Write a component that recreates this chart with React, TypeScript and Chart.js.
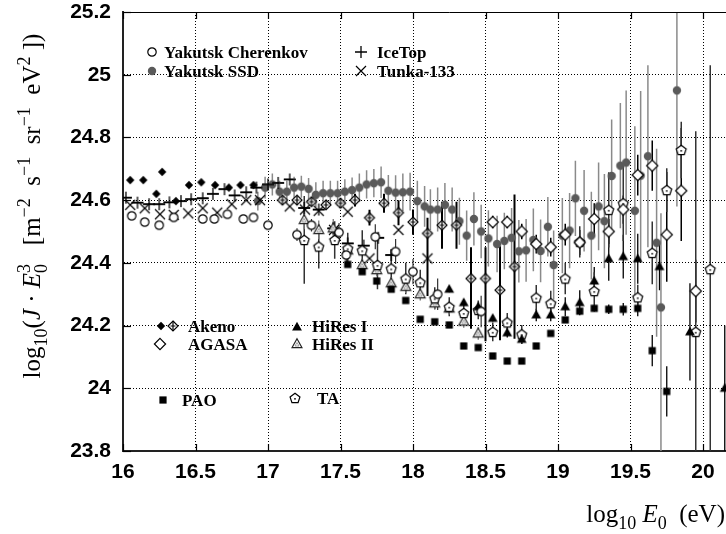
import React, { useEffect, useRef } from 'react';
import { Chart, registerables } from 'chart.js';
Chart.register(...registerables);

// ---------------- DATA ----------------
const X_TICKS_MIN = 16;
const X_TICKS_MAX = 20.5;
const X_STEP = 0.5;
const Y_MIN = 23.8;
const Y_MAX = 25.2;
const Y_STEP = 0.2;

const CHER_X = [16.06, 16.15, 16.25, 16.35, 16.55, 16.63, 16.72, 16.83, 16.9, 17.0, 17.2, 17.3, 17.49, 17.54, 17.74, 17.88, 18.0, 18.17, 18.47];
const CHER_Y = [24.55, 24.53, 24.52, 24.545, 24.54, 24.54, 24.555, 24.54, 24.545, 24.52, 24.49, 24.52, 24.497, 24.425, 24.483, 24.436, 24.372, 24.3, 24.245];
const CHER_ERR = [0, 0, 0, 0, 0, 0, 0, 0, 0, 0, 0.02, 0.02, 0.03, 0.03, 0.04, 0.04, 0.04, 0.05, 0.05];

const SSD_X = [16.93, 16.98, 17.03, 17.08, 17.13, 17.18, 17.23, 17.28, 17.33, 17.38, 17.43, 17.48, 17.53, 17.58, 17.63, 17.68, 17.73, 17.78, 17.83, 17.88, 17.93, 17.98,
  18.03, 18.08, 18.12, 18.17, 18.22, 18.27, 18.32, 18.37, 18.42, 18.47,
  18.52, 18.58, 18.63, 18.68, 18.73, 18.78, 18.83, 18.88, 18.93, 18.97,
  19.03, 19.08, 19.12, 19.18, 19.23, 19.28, 19.32, 19.37, 19.43, 19.47,
  19.53, 19.57, 19.62, 19.68, 19.71, 19.82];
const SSD_Y = [24.597, 24.64, 24.65, 24.627, 24.627, 24.64, 24.643, 24.636, 24.617, 24.622, 24.622, 24.622, 24.627, 24.632, 24.64, 24.65, 24.654, 24.657, 24.63, 24.624, 24.625, 24.627,
  24.597, 24.58, 24.57, 24.57, 24.585, 24.57, 24.533, 24.487, 24.54, 24.5,
  24.478, 24.46, 24.47, 24.48, 24.437, 24.44, 24.473, 24.438, 24.515, 24.393,
  24.487, 24.503, 24.606, 24.566, 24.487, 24.58, 24.533, 24.677, 24.71, 24.72,
  24.566, 24.678, 24.74, 24.464, 24.258, 24.95];
const SSD_ERR_HI = [0.03, 0.035, 0.035, 0.035, 0.035, 0.035, 0.035, 0.035, 0.04, 0.04, 0.04, 0.04, 0.04, 0.04, 0.045, 0.045, 0.045, 0.05, 0.05, 0.055, 0.06, 0.06,
  0.065, 0.065, 0.065, 0.07, 0.07, 0.07, 0.075, 0.08, 0.085, 0.085,
  0.09, 0.09, 0.09, 0.095, 0.1, 0.1, 0.1, 0.1, 0.095, 0.11,
  0.12, 0.12, 0.12, 0.13, 0.14, 0.14, 0.15, 0.18, 0.2, 0.23,
  0.27, 0.27, 0.29, 0.3, 0.3, 0.4];
const SSD_ERR_LO = [0.03, 0.035, 0.035, 0.035, 0.035, 0.035, 0.035, 0.035, 0.04, 0.04, 0.04, 0.04, 0.04, 0.04, 0.045, 0.045, 0.045, 0.05, 0.05, 0.055, 0.06, 0.06,
  0.065, 0.065, 0.065, 0.07, 0.07, 0.07, 0.075, 0.08, 0.085, 0.085,
  0.09, 0.09, 0.09, 0.095, 0.1, 0.1, 0.1, 0.1, 0.095, 0.11,
  0.12, 0.12, 0.12, 0.13, 0.14, 0.14, 0.15, 0.18, 0.2, 0.23,
  0.27, 0.27, 0.29, 0.3, 0.6, 0.37];

const ICE_X = [16.02, 16.1, 16.18, 16.25, 16.32, 16.4, 16.47, 16.55, 16.62, 16.7, 16.77, 16.85, 16.92, 17.0, 17.07, 17.15, 17.25, 17.35, 17.45, 17.55, 17.66, 17.76, 17.85];
const ICE_Y = [24.608, 24.592, 24.587, 24.587, 24.593, 24.597, 24.603, 24.606, 24.62, 24.635, 24.615, 24.625, 24.64, 24.65, 24.655, 24.666, 24.575, 24.57, 24.51, 24.462, 24.455, 24.48, 24.425];
const ICE_XERR = 0.04;

const TUNKA_X = [16.05, 16.15, 16.255, 16.35, 16.45, 16.55, 16.65, 16.75, 16.85, 16.945, 17.15, 17.255, 17.35, 17.455, 17.55, 17.7, 17.9, 18.1];
const TUNKA_Y = [24.585, 24.574, 24.555, 24.553, 24.558, 24.574, 24.56, 24.587, 24.6, 24.6, 24.58, 24.57, 24.566, 24.505, 24.563, 24.414, 24.505, 24.414];

const AKENO1_X = [16.05, 16.14, 16.23, 16.27, 16.365, 16.455, 16.54, 16.635, 16.73, 16.81, 16.9];
const AKENO1_Y = [24.664, 24.664, 24.62, 24.69, 24.597, 24.648, 24.657, 24.648, 24.64, 24.648, 24.648];

const AKENO2_X = [17.1, 17.2, 17.3, 17.4, 17.5, 17.6, 17.7, 17.8, 17.9, 18.0, 18.1, 18.2, 18.3, 18.4, 18.5, 18.6, 18.7];
const AKENO2_Y = [24.6, 24.6, 24.595, 24.585, 24.59, 24.6, 24.544, 24.59, 24.56, 24.53, 24.494, 24.52, 24.52, 24.35, 24.35, 24.313, 24.388];
const AKENO2_ERR_HI = [0.01, 0.01, 0.01, 0.01, 0.015, 0.02, 0.025, 0.03, 0.04, 0.04, 0.05, 0.075, 0.075, 0.1, 0.1, 0.14, 0.23];
const AKENO2_ERR_LO = [0.01, 0.01, 0.01, 0.01, 0.015, 0.02, 0.025, 0.03, 0.04, 0.04, 0.2, 0.075, 0.075, 0.16, 0.2, 0.16, 0.23];

const AGASA_X = [18.55, 18.65, 18.75, 18.85, 18.95, 19.05, 19.15, 19.25, 19.35, 19.45, 19.55, 19.65, 19.75, 19.85, 19.95];
const AGASA_Y = [24.53, 24.53, 24.5, 24.46, 24.45, 24.49, 24.465, 24.54, 24.5, 24.57, 24.68, 24.71, 24.49, 24.63, 24.31];
const AGASA_ERR_HI = [0.02, 0.02, 0.025, 0.03, 0.03, 0.035, 0.04, 0.05, 0.04, 0.045, 0.065, 0.08, 0.2, 0.2, 0.1];
const AGASA_ERR_LO = [0.02, 0.02, 0.025, 0.03, 0.03, 0.035, 0.04, 0.05, 0.04, 0.045, 0.065, 0.08, 0.15, 0.16, 0.1];

const HIRES1_X = [18.25, 18.35, 18.45, 18.55, 18.65, 18.75, 18.85, 18.95, 19.05, 19.15, 19.25, 19.35, 19.45, 19.55, 19.7, 19.91, 20.15];
const HIRES1_Y = [24.316, 24.273, 24.26, 24.223, 24.177, 24.156, 24.234, 24.234, 24.26, 24.273, 24.342, 24.413, 24.42, 24.413, 24.388, 24.18, 24.0];
const HIRES1_ERR = [0.01, 0.01, 0.01, 0.01, 0.015, 0.015, 0.02, 0.02, 0.03, 0.04, 0.045, 0.07, 0.07, 0.08, 0.075, 0.155, 0.2];

const HIRES2_X = [17.25, 17.35, 17.45, 17.55, 17.65, 17.75, 17.85, 17.95, 18.05, 18.15, 18.25, 18.35, 18.45];
const HIRES2_Y = [24.537, 24.505, 24.51, 24.44, 24.393, 24.377, 24.335, 24.324, 24.3, 24.271, 24.255, 24.213, 24.175];
const HIRES2_ERR = [0.03, 0.03, 0.03, 0.025, 0.02, 0.02, 0.02, 0.02, 0.02, 0.02, 0.02, 0.02, 0.02];

const PAO_X = [17.55, 17.65, 17.75, 17.85, 17.95, 18.05, 18.15, 18.25, 18.35, 18.45, 18.55, 18.65, 18.75, 18.85, 18.95, 19.05, 19.15, 19.25, 19.35, 19.45, 19.55, 19.65, 19.75];
const PAO_Y = [24.395, 24.372, 24.342, 24.316, 24.28, 24.22, 24.212, 24.202, 24.135, 24.13, 24.103, 24.087, 24.087, 24.135, 24.175, 24.218, 24.246, 24.255, 24.252, 24.252, 24.255, 24.12, 23.99];
const PAO_ERR = [0, 0, 0, 0, 0, 0, 0, 0, 0, 0, 0, 0, 0, 0, 0, 0, 0, 0.01, 0.015, 0.02, 0.025, 0.05, 0.08];

const TA_X = [17.25, 17.35, 17.46, 17.55, 17.65, 17.755, 17.85, 17.95, 18.05, 18.15, 18.25, 18.35, 18.45, 18.55, 18.65, 18.75, 18.85, 18.95, 19.05, 19.15, 19.25, 19.35, 19.45, 19.55, 19.65, 19.75, 19.85, 19.95, 20.05];
const TA_Y = [24.473, 24.452, 24.473, 24.446, 24.44, 24.393, 24.382, 24.35, 24.338, 24.287, 24.26, 24.24, 24.25, 24.18, 24.21, 24.172, 24.289, 24.271, 24.35, 24.467, 24.31, 24.569, 24.59, 24.29, 24.432, 24.632, 24.76, 24.18, 24.38];
const TA_ERR_HI = [0.14, 0.07, 0.06, 0.05, 0.064, 0.077, 0.06, 0.05, 0.04, 0.035, 0.03, 0.03, 0.03, 0.03, 0.03, 0.03, 0.04, 0.04, 0.05, 0.05, 0.06, 0.12, 0.12, 0.04, 0.1, 0.07, 0.09, 0.64, 0.65];
const TA_ERR_LO = [0.14, 0.07, 0.06, 0.05, 0.064, 0.077, 0.06, 0.05, 0.04, 0.035, 0.03, 0.03, 0.03, 0.03, 0.03, 0.03, 0.04, 0.04, 0.05, 0.05, 0.06, 0.12, 0.12, 0.04, 0.1, 0.07, 0.09, 0.5, 0.7];

// ---------------- SYMBOLS ----------------
function makeSymbol(kind: string): HTMLCanvasElement {
  const s = 20;
  const c = document.createElement('canvas');
  c.width = s; c.height = s;
  const g = c.getContext('2d')!;
  const m = s / 2;
  g.lineWidth = 1.2; g.strokeStyle = '#000'; g.fillStyle = '#000';
  const diamond = (hd: number) => { g.beginPath(); g.moveTo(m, m - hd); g.lineTo(m + hd, m); g.lineTo(m, m + hd); g.lineTo(m - hd, m); g.closePath(); };
  const tri = (h: number) => { g.beginPath(); g.moveTo(m, m - h * 0.62); g.lineTo(m + h * 0.58, m + h * 0.42); g.lineTo(m - h * 0.58, m + h * 0.42); g.closePath(); };
  switch (kind) {
    case 'circOpen':
      g.beginPath(); g.arc(m, m, 4.2, 0, Math.PI * 2); g.fillStyle = '#fff'; g.fill(); g.stroke(); break;
    case 'circGray':
      g.beginPath(); g.arc(m, m, 4.2, 0, Math.PI * 2); g.fillStyle = '#5a5a5a'; g.fill(); break;
    case 'plus':
      g.lineWidth = 1.3; g.beginPath(); g.moveTo(m - 6, m); g.lineTo(m + 6, m); g.moveTo(m, m - 6); g.lineTo(m, m + 6); g.stroke(); break;
    case 'cross':
      g.lineWidth = 1.2; g.beginPath(); g.moveTo(m - 5, m - 5); g.lineTo(m + 5, m + 5); g.moveTo(m + 5, m - 5); g.lineTo(m - 5, m + 5); g.stroke(); break;
    case 'diaFill':
      diamond(4.2); g.fill(); break;
    case 'diaCross':
      diamond(5); g.fillStyle = '#fff'; g.fill(); g.stroke();
      g.beginPath(); g.moveTo(m, m - 5); g.lineTo(m, m + 5); g.moveTo(m - 2.5, m); g.lineTo(m + 2.5, m); g.stroke(); break;
    case 'diaOpen':
      diamond(5.6); g.fillStyle = '#fff'; g.fill(); g.stroke(); break;
    case 'triFill':
      tri(8.5); g.fill(); break;
    case 'triOpen':
      tri(8.5); g.fillStyle = '#fff'; g.fill(); g.strokeStyle = '#222'; g.stroke();
      g.beginPath(); g.moveTo(m, m - 1.5); g.lineTo(m + 2, m + 2); g.lineTo(m - 2, m + 2); g.closePath(); g.strokeStyle = '#888'; g.lineWidth = 0.8; g.stroke(); break;
    case 'square':
      g.fillRect(m - 3.6, m - 3.6, 7.2, 7.2); break;
    case 'pent': {
      g.beginPath();
      for (let k = 0; k < 5; k++) {
        const a = -Math.PI / 2 + k * 2 * Math.PI / 5;
        const px = m + 5.2 * Math.cos(a), py = m + 0.5 + 5.2 * Math.sin(a);
        if (k === 0) g.moveTo(px, py); else g.lineTo(px, py);
      }
      g.closePath(); g.fillStyle = '#fff'; g.fill(); g.stroke();
      g.beginPath(); g.arc(m, m + 0.8, 0.9, 0, Math.PI * 2); g.fillStyle = '#000'; g.fill();
      break;
    }
  }
  return c;
}

// --------------- TEXT HELPERS ---------------
type Seg = { t: string; it?: boolean; sub?: boolean; sup?: boolean; back?: boolean };
const SERIF = '"Liberation Serif", "DejaVu Serif", serif';
function drawRich(ctx: CanvasRenderingContext2D, segs: Seg[], x: number, y: number, size: number, align: 'left' | 'center' | 'right') {
  const small = Math.round(size * 0.7);
  const fontFor = (s: Seg) => `${s.it ? 'italic ' : ''}${s.sub || s.sup ? small : size}px ${SERIF}`;
  const widths = segs.map(s => { ctx.font = fontFor(s); return ctx.measureText(s.t).width; });
  let cur = 0, total = 0;
  const xs: number[] = [];
  for (let i = 0; i < segs.length; i++) {
    if (segs[i].back) {
      const prevStart = xs[i - 1];
      xs.push(prevStart);
      cur = prevStart + Math.max(widths[i - 1], widths[i]);
    } else {
      xs.push(cur);
      cur += widths[i];
    }
    total = Math.max(total, cur);
  }
  const x0 = align === 'right' ? x - total : align === 'center' ? x - total / 2 : x;
  ctx.textAlign = 'left';
  ctx.textBaseline = 'alphabetic';
  ctx.fillStyle = '#000';
  segs.forEach((s, i) => {
    ctx.font = fontFor(s);
    const dy = s.sub ? size * 0.28 : s.sup ? -size * 0.42 : 0;
    ctx.fillText(s.t, x0 + xs[i], y + dy);
  });
}

const Y_TITLE: Seg[] = [
  { t: 'log' }, { t: '10', sub: true }, { t: '(' }, { t: 'J', it: true }, { t: ' · ' }, { t: 'E', it: true },
  { t: '0', sub: true }, { t: '3', sup: true, back: true }, { t: '   [' }, { t: 'm' }, { t: '−2', sup: true },
  { t: '  s' }, { t: '−1', sup: true }, { t: '  sr' }, { t: '−1', sup: true }, { t: '  eV' }, { t: '2', sup: true }, { t: ' ])' },
];
const X_TITLE: Seg[] = [
  { t: 'log' }, { t: '10', sub: true }, { t: ' ' }, { t: 'E', it: true }, { t: '0', sub: true }, { t: '  (eV)' },
];

const LEGEND_FONT = `bold 17px ${SERIF}`;
const TICK_FONT = { family: '"Liberation Sans", Arial, sans-serif', size: 21, weight: 'bold' };

export default function App() {
  const ref = useRef<HTMLCanvasElement | null>(null);
  useEffect(() => {
    document.body.style.margin = '0';
    const canvas = ref.current!;
    const sym: Record<string, HTMLCanvasElement> = {};
    ['circOpen', 'circGray', 'plus', 'cross', 'diaFill', 'diaCross', 'diaOpen', 'triFill', 'triOpen', 'square', 'pent'].forEach(k => { sym[k] = makeSymbol(k); });

    const pts = (xs: number[], ys: number[]) => xs.map((x, i) => ({ x, y: ys[i] }));
    const ds = (label: string, xs: number[], ys: number[], style: string, errs?: any) => ({
      label, data: pts(xs, ys), pointStyle: sym[style], pointRadius: 5, showLine: false, errs,
    });

    const datasets: any[] = [
      ds('Yakutsk Cherenkov', CHER_X, CHER_Y, 'circOpen', { color: '#333', width: 1.2, lo: CHER_ERR, hi: CHER_ERR }),
      ds('Akeno', AKENO1_X, AKENO1_Y, 'diaFill'),
      ds('Akeno ', AKENO2_X, AKENO2_Y, 'diaCross', { color: '#000', width: 2, lo: AKENO2_ERR_LO, hi: AKENO2_ERR_HI }),
      ds('AGASA', AGASA_X, AGASA_Y, 'diaOpen', { color: '#000', width: 1.5, lo: AGASA_ERR_LO, hi: AGASA_ERR_HI }),
      ds('HiRes I', HIRES1_X, HIRES1_Y, 'triFill', { color: '#000', width: 1.3, lo: HIRES1_ERR, hi: HIRES1_ERR }),
      ds('PAO', PAO_X, PAO_Y, 'square', { color: '#000', width: 1.3, lo: PAO_ERR, hi: PAO_ERR }),
      ds('TA', TA_X, TA_Y, 'pent', { color: '#333', width: 1.5, lo: TA_ERR_LO, hi: TA_ERR_HI }),
      ds('HiRes II', HIRES2_X, HIRES2_Y, 'triOpen', { color: '#777', width: 1.3, lo: HIRES2_ERR, hi: HIRES2_ERR }),
      ds('Tunka-133', TUNKA_X, TUNKA_Y, 'cross'),
      ds('IceTop', ICE_X, ICE_Y, 'plus', { color: '#000', width: 1.3, xw: ICE_XERR }),
      ds('Yakutsk SSD', SSD_X, SSD_Y, 'circGray', { color: '#8a8a8a', width: 1.5, lo: SSD_ERR_LO, hi: SSD_ERR_HI }),
    ];

    const errorBars = {
      id: 'errorBars',
      beforeDatasetsDraw(chart: any) {
        const { ctx, chartArea: a, scales: { x, y } } = chart;
        ctx.save();
        ctx.beginPath(); ctx.rect(a.left, a.top, a.right - a.left, a.bottom - a.top); ctx.clip();
        chart.data.datasets.forEach((d: any) => {
          const e = d.errs; if (!e) return;
          ctx.strokeStyle = e.color; ctx.lineWidth = e.width;
          d.data.forEach((p: any, i: number) => {
            const px = x.getPixelForValue(p.x);
            const lo = e.lo ? e.lo[i] : 0, hi = e.hi ? e.hi[i] : 0;
            if (lo > 0 || hi > 0) {
              ctx.beginPath(); ctx.moveTo(px, y.getPixelForValue(p.y - lo)); ctx.lineTo(px, y.getPixelForValue(p.y + hi)); ctx.stroke();
            }
            if (e.xw) {
              const py = y.getPixelForValue(p.y);
              ctx.beginPath(); ctx.moveTo(x.getPixelForValue(p.x - e.xw), py); ctx.lineTo(x.getPixelForValue(p.x + e.xw), py); ctx.stroke();
            }
          });
        });
        ctx.restore();
      },
    };

    const frame = {
      id: 'frame',
      afterDraw(chart: any) {
        const { ctx, chartArea: a, scales: { x, y } } = chart;
        ctx.save();
        ctx.strokeStyle = '#000'; ctx.lineWidth = 1;
        ctx.beginPath(); ctx.moveTo(a.left, Math.round(a.top) + 0.5); ctx.lineTo(a.right, Math.round(a.top) + 0.5); ctx.stroke();
        ctx.lineWidth = 1.2;
        x.ticks.forEach((t: any) => {
          const px = Math.round(x.getPixelForValue(t.value)) + 0.5;
          ctx.beginPath(); ctx.moveTo(px, a.bottom); ctx.lineTo(px, a.bottom - 7); ctx.moveTo(px, a.top); ctx.lineTo(px, a.top + 7); ctx.stroke();
        });
        y.ticks.forEach((t: any) => {
          const py = Math.round(y.getPixelForValue(t.value)) + 0.5;
          ctx.beginPath(); ctx.moveTo(a.left, py); ctx.lineTo(a.left + 8, py); ctx.stroke();
        });
        // axis titles
        ctx.save();
        ctx.translate(40, 206);
        ctx.rotate(-Math.PI / 2);
        drawRich(ctx, Y_TITLE, 0, 0, 25, 'center');
        ctx.restore();
        drawRich(ctx, X_TITLE, 725, 522, 25, 'right');
        // legend
        const item = (s: string, cx: number, cy: number) => ctx.drawImage(sym[s], cx - 10, cy - 10);
        const text = (t: string, tx: number, ty: number) => { ctx.font = LEGEND_FONT; ctx.fillStyle = '#000'; ctx.textAlign = 'left'; ctx.textBaseline = 'alphabetic'; ctx.fillText(t, tx, ty); };
        item('circOpen', 152, 52); text('Yakutsk Cherenkov', 164, 58);
        item('circGray', 152, 71); text('Yakutsk SSD', 164, 77);
        item('plus', 361, 52); text('IceTop', 377, 58);
        item('cross', 361, 71); text('Tunka-133', 377, 77);
        item('diaFill', 161, 326); item('diaCross', 173, 326); text('Akeno', 188, 332);
        item('diaOpen', 160, 344); text('AGASA', 188, 350);
        item('triFill', 297, 327); text('HiRes I', 312, 332);
        item('triOpen', 297, 344); text('HiRes II', 312, 350);
        item('square', 163, 400); text('PAO', 182, 406);
        item('pent', 295, 398); text('TA', 317, 404);
        ctx.restore();
      },
    };

    const chart = new Chart(canvas, {
      type: 'scatter',
      data: { datasets },
      options: {
        animation: false,
        responsive: false,
        events: [],
        layout: { autoPadding: false, padding: { left: 0, top: 12, right: 24.5, bottom: 0 } },
        plugins: { legend: { display: false }, tooltip: { enabled: false }, title: { display: false } },
        scales: {
          x: {
            type: 'linear', min: X_TICKS_MIN, max: X_TICKS_MAX,
            afterFit: (s: any) => { s.height = 83; s.paddingLeft = 0; s.paddingRight = 0; },
            ticks: {
              stepSize: X_STEP, padding: 9, color: '#000', maxRotation: 0, autoSkip: false,
              font: TICK_FONT,
              callback: (v: any) => (Number(v) > 20.2 ? '' : String(+Number(v).toFixed(1))),
            },
            grid: { color: '#000', lineWidth: 1, drawTicks: false },
            border: { display: true, color: '#222', width: 2, dash: [1, 2] },
          },
          y: {
            type: 'linear', min: Y_MIN, max: Y_MAX,
            afterFit: (s: any) => { s.width = 123; s.paddingTop = 0; s.paddingBottom = 0; },
            ticks: {
              stepSize: Y_STEP, padding: 12, color: '#000', autoSkip: false,
              font: TICK_FONT,
              callback: (v: any) => String(+Number(v).toFixed(1)),
            },
            grid: { color: '#000', lineWidth: 1, drawTicks: false },
            border: { display: true, color: '#222', width: 2, dash: [1, 2] },
          },
        },
      } as any,
      plugins: [errorBars, frame],
    });
    return () => chart.destroy();
  }, []);
  return (
    <div style={{ width: 726, height: 534, overflow: 'hidden', position: 'relative', background: '#fff' }}>
      <canvas ref={ref} width={800} height={534} style={{ display: 'block' }} />
    </div>
  );
}
